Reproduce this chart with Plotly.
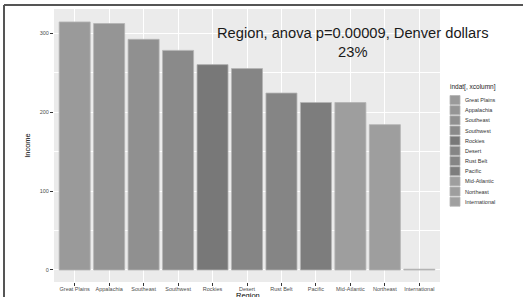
import plotly.graph_objects as go

regions = ["Great Plains", "Appalachia", "Southeast", "Southwest", "Rockies", "Desert",
           "Rust Belt", "Pacific", "Mid-Atlantic", "Northeast", "International"]
income = [314, 312, 292, 278, 260, 255, 224, 212, 212, 184, 1]
bar_colors = ["#9a9a9a", "#959595", "#909090", "#8a8a8a", "#787878", "#858585",
              "#858585", "#7d7d7d", "#9e9e9e", "#9e9e9e", "#a0a0a0"]
y_ticks = [0, 100, 200, 300]
title_text = "Region, anova p=0.00009, Denver dollars<br>23%"
legend_title = "indat[, xcolumn]"
x_title = "Region"

W, H = 523, 297
L, R, T, B = 54, 83, 9, 15
pw = W - L - R
ph = H - T - B

def px2paper_x(px):
    return (px - L) / pw

def px2paper_y(py):
    return (H - B - py) / ph

fig = go.Figure()
for name, val, col in zip(regions, income, bar_colors):
    fig.add_trace(go.Bar(
        x=[name], y=[val], name=name, width=0.9,
        marker=dict(color=col, line=dict(color="#b4b4b4", width=0.8)),
        showlegend=False,
    ))

fig.update_layout(
    width=W, height=H,
    margin=dict(l=L, r=R, t=T, b=B, pad=0, autoexpand=False),
    paper_bgcolor="white",
    plot_bgcolor="#EBEBEB",
    barmode="overlay",
    font=dict(family="Liberation Sans, Arial, sans-serif", color="#4d4d4d"),
    xaxis=dict(
        type="category", categoryorder="array", categoryarray=regions,
        range=[-0.6, len(regions) - 0.4],
        showgrid=True, gridcolor="white", gridwidth=1,
        ticks="outside", ticklen=3, tickcolor="#333333", tickwidth=0.8,
        tickangle=0, automargin=False, ticklabelstandoff=-2,
        tickfont=dict(size=5.5, color="#4d4d4d"),
        zeroline=False, showline=False, fixedrange=True,
    ),
    yaxis=dict(
        range=[-15.2, 330.4],
        tickvals=y_ticks, automargin=False,
        showgrid=True, gridcolor="white", gridwidth=1,
        minor=dict(dtick=50, tick0=0, showgrid=True, gridcolor="white", gridwidth=0.5, ticks=""),
        ticks="outside", ticklen=3, tickcolor="#333333", tickwidth=0.8,
        tickfont=dict(size=5.5, color="#4d4d4d"),
        title=dict(text="Income", font=dict(size=7.5, color="#000000"), standoff=8),
        zeroline=False, showline=False, fixedrange=True,
    ),
    showlegend=False,
)

# x-axis title (partly cut off at the bottom edge, as in the reference)
fig.add_annotation(
    text=x_title, xref="paper", yref="paper",
    x=px2paper_x(248), y=px2paper_y(295), xanchor="center", yanchor="middle",
    showarrow=False, font=dict(size=7.5, color="#000000"), borderpad=0,
)

fig.add_annotation(
    text=title_text, xref="paper", yref="paper",
    x=px2paper_x(353), y=px2paper_y(23), xanchor="center", yanchor="top",
    showarrow=False, font=dict(size=14.7, color="#1a1a1a"), align="center",
)

# legend (drawn from the same lists)
leg_x0, leg_y0, step, key = 450, 95, 10.17, 10
fig.add_annotation(
    text=legend_title, xref="paper", yref="paper",
    x=px2paper_x(448), y=px2paper_y(87), xanchor="left", yanchor="middle",
    showarrow=False, font=dict(size=6.5, color="#1a1a1a"),
)
for i, (name, col) in enumerate(zip(regions, bar_colors)):
    yc = leg_y0 + key / 2 + i * step
    fig.add_shape(type="rect", xref="paper", yref="paper",
                  x0=px2paper_x(leg_x0), x1=px2paper_x(leg_x0 + key),
                  y0=px2paper_y(yc - key / 2 + 0.5), y1=px2paper_y(yc + key / 2 - 0.5),
                  fillcolor=col, line=dict(color="#b4b4b4", width=0.8))
    fig.add_annotation(
        text=name, xref="paper", yref="paper",
        x=px2paper_x(463), y=px2paper_y(yc), xanchor="left", yanchor="middle",
        showarrow=False, font=dict(size=5.5, color="#333333"),
    )

# screenshot frame lines
fig.add_shape(type="line", xref="paper", yref="paper",
              x0=px2paper_x(4), x1=px2paper_x(523), y0=px2paper_y(5), y1=px2paper_y(5),
              line=dict(color="#555555", width=2))
fig.add_shape(type="line", xref="paper", yref="paper",
              x0=px2paper_x(4), x1=px2paper_x(4), y0=px2paper_y(5), y1=px2paper_y(297),
              line=dict(color="#555555", width=2))

fig.write_html("out.html", config={"displayModeBar": False},
               post_script="document.body.style.margin='0';document.body.style.overflow='hidden';")
